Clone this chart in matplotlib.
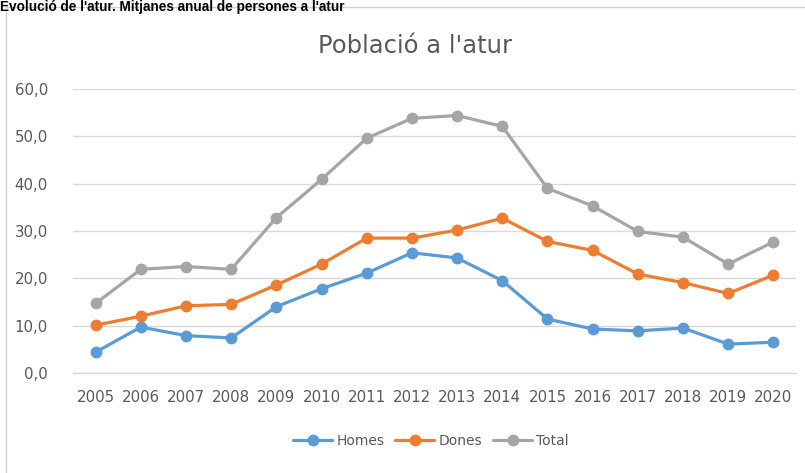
import matplotlib
matplotlib.use("Agg")
import matplotlib.pyplot as plt
from matplotlib.patches import Rectangle

# Dades llegides del gràfic (mitjana anual de persones a l'atur)
years = [2005, 2006, 2007, 2008, 2009, 2010, 2011, 2012,
         2013, 2014, 2015, 2016, 2017, 2018, 2019, 2020]
homes = [4.4, 9.7, 7.9, 7.4, 14.0, 17.8, 21.1, 25.4,
         24.3, 19.5, 11.4, 9.3, 8.9, 9.5, 6.1, 6.5]
dones = [10.1, 12.0, 14.2, 14.5, 18.6, 23.0, 28.5, 28.5,
         30.2, 32.7, 27.8, 25.9, 20.9, 19.1, 16.8, 20.7]
total = [14.7, 21.9, 22.5, 21.9, 32.8, 40.9, 49.6, 53.8,
         54.4, 52.1, 39.0, 35.3, 29.9, 28.7, 23.0, 27.7]
y_ticks = [0, 10, 20, 30, 40, 50, 60]

text_color = "#595959"
grid_color = "#D9D9D9"

fig = plt.figure(figsize=(8.05, 4.73), dpi=100)

# marc del gràfic
fig.patches.append(Rectangle((6 / 805, -0.01), 1.0, 1 - 7 / 473 + 0.01,
                             transform=fig.transFigure, fill=False,
                             edgecolor="#D0D0D0", linewidth=1.0))

# capçalera a dalt de tot
fig.text(0.0, 1.0, "Evolució de l'atur. Mitjanes anual de persones a l'atur",
         fontsize=9.8, fontweight="bold", family="Liberation Sans",
         ha="left", va="top", color="black")

ax = fig.add_axes([73 / 805, 1 - 373 / 473, 723 / 805, 284 / 473])

series = [("Homes", homes, "#5B9BD5"),
          ("Dones", dones, "#ED7D31"),
          ("Total", total, "#A5A5A5")]
for name, vals, col in series:
    ax.plot(years, vals, color=col, linewidth=2.3, marker="o",
            markersize=7.5, label=name, solid_capstyle="round", zorder=3)

ax.set_xlim(years[0] - 0.5, years[-1] + 0.5)
ax.set_ylim(0, 60)
ax.set_yticks(y_ticks)
ax.set_yticklabels([f"{v:.1f}".replace(".", ",") for v in y_ticks])
ax.set_xticks(years)
ax.set_xticklabels([str(y) for y in years])

ax.grid(axis="y", color=grid_color, linewidth=1.0)
ax.axhline(0, color=grid_color, linewidth=1.0, clip_on=False, zorder=1)
ax.set_axisbelow(True)
for s in ax.spines.values():
    s.set_visible(False)
ax.tick_params(axis="both", length=0, labelsize=10.8, colors=text_color)
ax.tick_params(axis="y", pad=18)
ax.tick_params(axis="x", pad=12)

fig.text(415 / 805, 1 - 46 / 473, "Població a l'atur", fontsize=17.5,
         color=text_color, ha="center", va="center")

fig.legend(loc="center", bbox_to_anchor=(431 / 805, 1 - 441 / 473), ncol=3,
           frameon=False, fontsize=10, labelcolor=text_color,
           handlelength=2.8, columnspacing=0.8, handletextpad=0.3)

fig.savefig("out.png", dpi=100)
